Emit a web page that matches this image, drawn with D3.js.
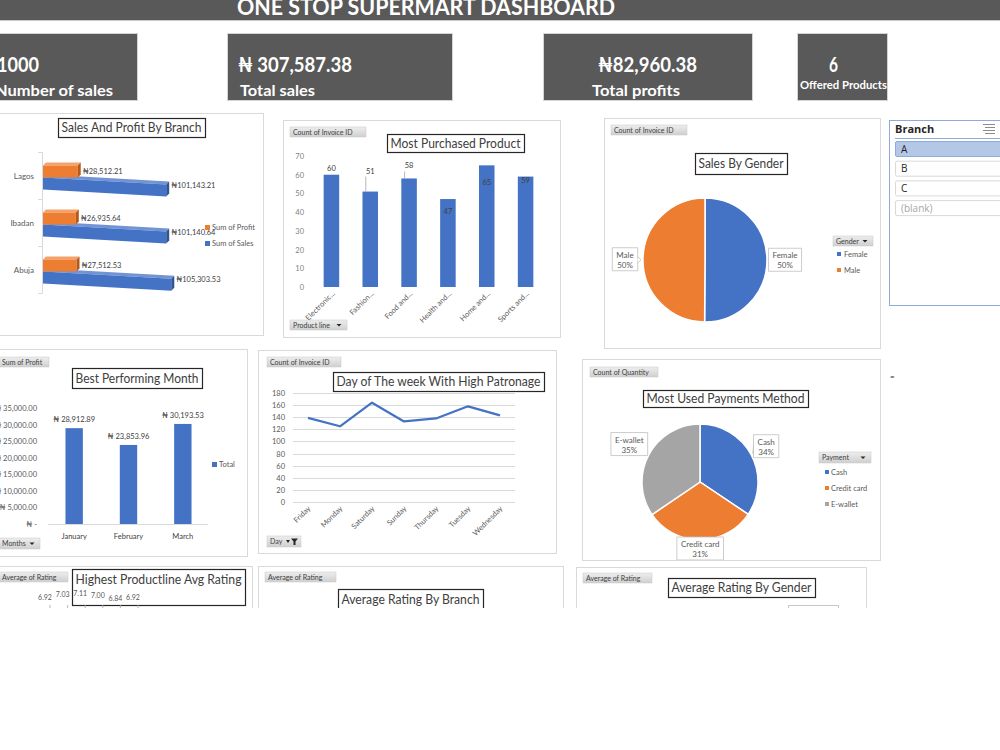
<!DOCTYPE html>
<html><head><meta charset="utf-8">
<script src="https://cdn.jsdelivr.net/npm/d3@7"></script>
<style>body{margin:0;background:#fff;overflow:hidden}svg{display:block;font-family:Lato,"Open Sans",sans-serif}</style>
</head><body><svg id="c" width="1000" height="750"></svg>
<script>
// ---------- DATA ----------
const dashboardTitle = "ONE STOP SUPERMART DASHBOARD";
const kpiLabels = ["Number of sales", "Total sales", "Total profits", "Offered Products"];
const branches = ["Lagos", "Ibadan", "Abuja"];
const branchProfit = [28512.21, 26935.64, 27512.53];
const branchSales = [101143.21, 101140.64, 105303.53];
const productLines = ["Electronic accessories", "Fashion accessories", "Food and beverages", "Health and beauty", "Home and lifestyle", "Sports and travel"];
const productLabels = ["Electronic...", "Fashion...", "Food and...", "Health and...", "Home and...", "Sports and..."];
const productCounts = [60, 51, 58, 47, 65, 59];
const productTicks = [0, 10, 20, 30, 40, 50, 60, 70];
const genders = ["Female", "Male"];
const genderCounts = [501, 499];
const slicerItems = ["A", "B", "C", "(blank)"];
const months = ["January", "February", "March"];
const monthProfit = [28912.89, 23853.96, 30193.53];
const monthTicks = [0, 5000, 10000, 15000, 20000, 25000, 30000, 35000];
const days = ["Friday", "Monday", "Saturday", "Sunday", "Thursday", "Tuesday", "Wednesday"];
const dayCounts = [139, 125, 164, 133, 138, 158, 143];
const dayTicks = [0, 20, 40, 60, 80, 100, 120, 140, 160, 180];
const payments = ["Cash", "Credit card", "E-wallet"];
const paymentCounts = [344, 311, 345];
const productRatings = [6.92, 7.03, 7.11, 7.00, 6.84, 6.92];

// ---------- HELPERS ----------
const svg = d3.select("#c");
const BLUE = "#4472c4", ORANGE = "#ed7d31", GRAY = "#a5a5a5";
const fmt2 = d3.format(",.2f");
const defs = svg.append("defs");
const gr = defs.append("linearGradient").attr("id", "btn").attr("x1", 0).attr("y1", 0).attr("x2", 0).attr("y2", 1);
gr.append("stop").attr("offset", "0%").attr("stop-color", "#eeeeee");
gr.append("stop").attr("offset", "100%").attr("stop-color", "#cfcfcf");
defs.append("clipPath").attr("id", "pageclip").append("rect").attr("x", 0).attr("y", 0).attr("width", 1000).attr("height", 608);

const root = svg.append("g").attr("clip-path", "url(#pageclip)");

function frame(g, x, y, w, h) {
  g.append("rect").attr("x", x + 0.5).attr("y", y + 0.5).attr("width", w).attr("height", h)
    .attr("fill", "#fff").attr("stroke", "#d9d9d9").attr("stroke-width", 1);
}
function titleBox(g, x, y, w, h, label, fs, baseY) {
  g.append("rect").attr("x", x + 0.5).attr("y", y + 0.5).attr("width", w).attr("height", h)
    .attr("fill", "#fff").attr("stroke", "#262626").attr("stroke-width", 1.2);
  g.append("text").attr("x", x + w / 2).attr("y", baseY != null ? baseY : y + h / 2 + fs * 0.36)
    .attr("text-anchor", "middle").attr("font-size", fs).attr("fill", "#404040")
    .attr("textLength", w - 7).attr("lengthAdjust", "spacingAndGlyphs").text(label);
}
function button(g, x, y, w, h, label, arrow) {
  g.append("rect").attr("x", x).attr("y", y).attr("width", w).attr("height", h)
    .attr("fill", "url(#btn)").attr("stroke", "#c8c8c8").attr("stroke-width", 0.5);
  g.append("text").attr("x", x + 3).attr("y", y + h / 2 + 2.5).attr("font-size", 7).attr("fill", "#404040").text(label);
  if (arrow) {
    const ax = x + w - 8, ay = y + h / 2 - 1;
    g.append("path").attr("d", `M${ax - 2.5},${ay}L${ax + 2.5},${ay}L${ax},${ay + 2.5}Z`).attr("fill", "#262626");
  }
}
function callout(g, cx, cy, lines, px, py) {
  const t = g.append("text").attr("font-size", 8).attr("fill", "#595959").attr("text-anchor", "middle");
  lines.forEach((l, i) => t.append("tspan").attr("x", cx).attr("y", cy - 2 + i * 10).text(l));
  const bb = t.node().getBBox();
  const w = bb.width + 8, h = 23;
  const x0 = cx - w / 2, y0 = cy - 12;
  g.insert("path", () => t.node())
    .attr("d", `M${x0},${y0}H${x0 + w}V${y0 + h}H${x0}Z`)
    .attr("fill", "#fff").attr("stroke", "#bfbfbf").attr("stroke-width", 0.8);
  const ex = px < x0 ? x0 : (px > x0 + w ? x0 + w : null);
  if (ex != null) {
    g.insert("path", () => t.node()).attr("d", `M${ex},${cy - 3}L${px},${py}L${ex},${cy + 3}`)
      .attr("fill", "#fff").attr("stroke", "#bfbfbf").attr("stroke-width", 0.8);
  }
}

// ---------- HEADER ----------
root.append("rect").attr("x", 0).attr("y", 0).attr("width", 1000).attr("height", 20).attr("fill", "#595959");
root.append("line").attr("x1", 0).attr("x2", 1000).attr("y1", 20.5).attr("y2", 20.5).attr("stroke", "#c9c9c9");
root.append("text").attr("x", 237).attr("y", 15).attr("font-size", 22).attr("font-weight", 700).attr("fill", "#fff")
  .attr("textLength", 378).attr("lengthAdjust", "spacingAndGlyphs").text(dashboardTitle);

// ---------- KPI BOXES ----------
const kpiValues = [
  String(d3.sum(dayCounts)),
  "₦ " + fmt2(d3.sum(branchSales)),
  "₦" + fmt2(d3.sum(branchProfit)),
  String(productLines.length)
];
const kpiBoxes = [
  {x: -5, w: 142, vx: -3, vw: 42, lx: -5, lw: 118, vs: 20, ls: 16, ly: 96},
  {x: 227, w: 225, vx: 238, vw: 114, lx: 240, lw: 75, vs: 20, ls: 16, ly: 96},
  {x: 543, w: 209, vx: 598, vw: 99, lx: 592, lw: 88, vs: 20, ls: 16, ly: 96},
  {x: 797, w: 90, vx: 829, vw: 9, lx: 800, lw: 87, vs: 20, ls: 11, ly: 89}
];
kpiBoxes.forEach((b, i) => {
  root.append("rect").attr("x", b.x + 0.5).attr("y", 33.5).attr("width", b.w).attr("height", 67)
    .attr("fill", "#595959").attr("stroke", "#d4d4d4").attr("stroke-width", 1);
  root.append("text").attr("x", b.vx).attr("y", 72).attr("font-size", b.vs).attr("font-weight", 700).attr("fill", "#fff")
    .attr("textLength", b.vw).attr("lengthAdjust", "spacingAndGlyphs").text(kpiValues[i]);
  root.append("text").attr("x", b.lx).attr("y", b.ly).attr("font-size", b.ls).attr("font-weight", 700).attr("fill", "#fff")
    .attr("textLength", b.lw).attr("lengthAdjust", "spacingAndGlyphs").text(kpiLabels[i]);
});

// ---------- SALES AND PROFIT BY BRANCH (3D bars) ----------
{
  const g = root.append("g");
  frame(g, -1, 113, 264, 222);
  titleBox(g, 58, 118, 147, 19, "Sales And Profit By Branch", 12.5);
  const bx = d3.scaleLinear().domain([0, 110000]).range([43, 177]);
  const by = d3.scaleBand().domain(branches).range([152, 293]);
  g.append("line").attr("x1", 42.5).attr("x2", 42.5).attr("y1", 152).attr("y2", 293).attr("stroke", "#d9d9d9");
  by.domain().forEach(b => {
    g.append("line").attr("x1", 38).attr("x2", 42.5).attr("y1", by(b) + 0.5).attr("y2", by(b) + 0.5).attr("stroke", "#d9d9d9");
  });
  g.append("line").attr("x1", 38).attr("x2", 42.5).attr("y1", 293.5).attr("y2", 293.5).attr("stroke", "#d9d9d9");
  const poly = pts => "M" + pts.map(p => p.join(",")).join("L") + "Z";
  branches.forEach((b, i) => {
    const c = by(b) + by.bandwidth() / 2;
    const x0 = bx(0), xs = bx(branchSales[i]), xp = bx(branchProfit[i]);
    const sl = (xs - x0) * 7 / 124;
    g.append("path").attr("d", poly([[x0, c + 2], [x0 + 3, c - 1], [xs + 3, c - 1 + sl], [xs, c + 2 + sl]])).attr("fill", "#7394d4");
    g.append("path").attr("d", poly([[x0, c + 2], [xs, c + 2 + sl], [xs, c + 14 + sl], [x0, c + 14]])).attr("fill", BLUE);
    g.append("path").attr("d", poly([[xs, c + 2 + sl], [xs + 3, c - 1 + sl], [xs + 3, c + 11 + sl], [xs, c + 14 + sl]])).attr("fill", "#2f5597");
    g.append("path").attr("d", poly([[x0, c - 10], [x0 + 3, c - 13], [xp + 3, c - 13], [xp, c - 10]])).attr("fill", "#f4a26a");
    g.append("path").attr("d", poly([[x0, c - 10], [xp, c - 10], [xp, c + 2], [x0, c + 2]])).attr("fill", ORANGE);
    g.append("path").attr("d", poly([[xp, c - 10], [xp + 3, c - 13], [xp + 3, c - 1], [xp, c + 2]])).attr("fill", "#b55a1e");
    g.append("text").attr("x", 34).attr("y", c + 3).attr("text-anchor", "end").attr("font-size", 8).attr("fill", "#595959").text(b);
    g.append("text").attr("x", xp + 5).attr("y", c - 2).attr("font-size", 7.5).attr("fill", "#404040").text("₦" + fmt2(branchProfit[i]));
    g.append("text").attr("x", xs + 5).attr("y", c + 12).attr("font-size", 7.5).attr("fill", "#404040").text("₦" + fmt2(branchSales[i]));
  });
  const leg = [["Sum of Profit", ORANGE], ["Sum of Sales", BLUE]];
  leg.forEach((l, i) => {
    g.append("rect").attr("x", 205).attr("y", 225 + i * 16).attr("width", 5).attr("height", 5).attr("fill", l[1]);
    g.append("text").attr("x", 212).attr("y", 230 + i * 16).attr("font-size", 7.5).attr("fill", "#595959").text(l[0]);
  });
}

// ---------- MOST PURCHASED PRODUCT ----------
{
  const g = root.append("g");
  frame(g, 283, 120, 277, 217);
  button(g, 290, 127, 76, 10, "Count of Invoice ID", false);
  titleBox(g, 387, 134, 137, 18, "Most Purchased Product", 12.5);
  const y = d3.scaleLinear().domain([0, 70]).range([287, 156]);
  const x = d3.scaleBand().domain(productLines).range([312, 545]).paddingInner(0.6).paddingOuter(0.3);
  productTicks.forEach(t => {
    g.append("text").attr("x", 304).attr("y", y(t) + 3).attr("text-anchor", "end").attr("font-size", 7.5).attr("fill", "#7f7f7f").text(t);
  });
  g.selectAll("rect.bar").data(productCounts).enter().append("rect").attr("class", "bar")
    .attr("x", (d, i) => x(productLines[i])).attr("width", x.bandwidth())
    .attr("y", d => y(d)).attr("height", d => y(0) - y(d)).attr("fill", BLUE);
  const labelPlace = [[0, -4, false], [0, -18, true], [0, -10, true], [0, 15, false], [0, 20, false], [0, 6, false]];
  productCounts.forEach((d, i) => {
    const cx = x(productLines[i]) + x.bandwidth() / 2;
    const [dx, dy, leader] = labelPlace[i];
    if (leader) g.append("line").attr("x1", cx - 4.5).attr("x2", cx - 4.5).attr("y1", y(d) + dy + 3).attr("y2", y(d)).attr("stroke", "#a6a6a6").attr("stroke-width", 0.8);
    g.append("text").attr("x", cx + dx).attr("y", y(d) + dy).attr("text-anchor", "middle").attr("font-size", 7.5).attr("fill", "#404040").text(d);
  });
  productLabels.forEach((l, i) => {
    const cx = x(productLines[i]) + x.bandwidth() / 2;
    g.append("text").attr("transform", `translate(${cx + 4},${294}) rotate(-45)`).attr("text-anchor", "end")
      .attr("font-size", 7.5).attr("fill", "#595959").text(l);
  });
  button(g, 290, 320, 57, 10, "Product line", true);
}

// ---------- SALES BY GENDER ----------
{
  const g = root.append("g");
  frame(g, 604, 118, 276, 230);
  button(g, 611, 125, 76, 10, "Count of Invoice ID", false);
  titleBox(g, 695, 153, 92, 21, "Sales By Gender", 12.5);
  const cx = 705, cy = 260, r = 62;
  const pie = d3.pie().sort(null).value(d => d)(genderCounts);
  const arc = d3.arc().innerRadius(0).outerRadius(r);
  const colors = [BLUE, ORANGE];
  g.selectAll("path.sl").data(pie).enter().append("path").attr("class", "sl")
    .attr("transform", `translate(${cx},${cy})`).attr("d", arc)
    .attr("fill", (d, i) => colors[i]).attr("stroke", "#fff").attr("stroke-width", 1.5);
  const lab = d3.arc().innerRadius(80).outerRadius(80);
  const edge = d3.arc().innerRadius(r + 2).outerRadius(r + 2);
  const total = d3.sum(genderCounts);
  pie.forEach((p, i) => {
    const [lx, ly] = lab.centroid(p);
    const [ex, ey] = edge.centroid(p);
    callout(g, cx + lx, cy + ly, [genders[i], Math.round(genderCounts[i] / total * 100) + "%"], cx + ex, cy + ey);
  });
  button(g, 833, 236, 40, 10, "Gender", true);
  genders.forEach((gn, i) => {
    g.append("rect").attr("x", 837).attr("y", 252 + i * 16).attr("width", 4).attr("height", 4).attr("fill", colors[i]);
    g.append("text").attr("x", 844).attr("y", 257 + i * 16).attr("font-size", 7.5).attr("fill", "#595959").text(gn);
  });
}

// ---------- BRANCH SLICER ----------
{
  const g = root.append("g");
  g.append("rect").attr("x", 889.5).attr("y", 120.5).attr("width", 130).attr("height", 185)
    .attr("fill", "#fff").attr("stroke", "#8eaadb").attr("stroke-width", 1);
  g.append("text").attr("x", 895).attr("y", 133).attr("font-size", 11).attr("font-weight", 700).attr("fill", "#262626")
    .attr("font-family", "'Open Sans',sans-serif").text("Branch");
  [0, 3, 6, 9].forEach((o, i) => {
    g.append("line").attr("x1", 983 + (i % 2) * 2).attr("x2", 995).attr("y1", 124.5 + o).attr("y2", 124.5 + o)
      .attr("stroke", "#8c8c8c").attr("stroke-width", 1);
  });
  g.append("line").attr("x1", 895).attr("x2", 1000).attr("y1", 138.5).attr("y2", 138.5).attr("stroke", "#8eaadb");
  slicerItems.forEach((s, i) => {
    const yy = 141 + i * 19.7;
    g.append("rect").attr("x", 895.5).attr("y", yy + 0.5).attr("width", 120).attr("height", 15)
      .attr("rx", 1.5)
      .attr("fill", i === 0 ? "#b4c7e7" : "#fff").attr("stroke", i === 0 ? "#8faadc" : "#d9d9d9");
    g.append("text").attr("x", 901).attr("y", yy + 11.5).attr("font-size", 10).attr("font-family", "'Open Sans',sans-serif")
      .attr("fill", i === 3 ? "#a6a6a6" : "#262626").text(s);
  });
}

// ---------- BEST PERFORMING MONTH ----------
{
  const g = root.append("g");
  frame(g, -1, 349, 248, 207);
  button(g, -1, 357, 50, 10, "Sum of Profit", false);
  titleBox(g, 72, 368, 130, 20, "Best Performing Month", 12.5);
  const y = d3.scaleLinear().domain([0, 35000]).range([524, 408]);
  const x = d3.scaleBand().domain(months).range([47, 210]).paddingInner(0.68).paddingOuter(0.34);
  monthTicks.forEach(t => {
    g.append("text").attr("x", 37).attr("y", y(t) + 3).attr("text-anchor", "end").attr("font-size", 7.5).attr("fill", "#595959")
      .text(t === 0 ? "₦ -" : "₦ " + fmt2(t));
  });
  g.append("line").attr("x1", 48).attr("x2", 208).attr("y1", 524.5).attr("y2", 524.5).attr("stroke", "#d9d9d9");
  months.forEach((m, i) => {
    const v = monthProfit[i];
    g.append("rect").attr("x", x(m)).attr("width", x.bandwidth()).attr("y", y(v)).attr("height", y(0) - y(v)).attr("fill", BLUE);
    g.append("text").attr("x", x(m) + x.bandwidth() / 2).attr("y", y(v) - 6).attr("text-anchor", "middle")
      .attr("font-size", 7.5).attr("fill", "#404040").text("₦ " + fmt2(v));
    g.append("text").attr("x", x(m) + x.bandwidth() / 2).attr("y", 539).attr("text-anchor", "middle")
      .attr("font-size", 7.5).attr("fill", "#404040").text(m);
  });
  g.append("rect").attr("x", 212).attr("y", 462).attr("width", 5).attr("height", 5).attr("fill", BLUE);
  g.append("text").attr("x", 219).attr("y", 467).attr("font-size", 7.5).attr("fill", "#595959").text("Total");
  button(g, -1, 538, 41, 11, "Months", true);
}

// ---------- DAY OF THE WEEK ----------
{
  const g = root.append("g");
  frame(g, 258, 350, 298, 203);
  button(g, 267, 357, 74, 10, "Count of Invoice ID", false);
  titleBox(g, 333, 372, 211, 19, "Day of The week  With High Patronage", 12.5);
  const y = d3.scaleLinear().domain([0, 180]).range([502, 393]);
  const x = d3.scalePoint().domain(days).range([308, 500]);
  dayTicks.forEach(t => {
    g.append("line").attr("x1", 293).attr("x2", 515).attr("y1", Math.round(y(t)) + 0.5).attr("y2", Math.round(y(t)) + 0.5).attr("stroke", "#d9d9d9");
    g.append("text").attr("x", 285).attr("y", y(t) + 3).attr("text-anchor", "end").attr("font-size", 7.5).attr("fill", "#595959").text(t);
  });
  const line = d3.line().x((d, i) => x(days[i])).y(d => y(d));
  g.append("path").datum(dayCounts).attr("d", line).attr("fill", "none").attr("stroke", BLUE).attr("stroke-width", 2.2).attr("stroke-linejoin", "round");
  days.forEach(d => {
    g.append("text").attr("transform", `translate(${x(d) + 3},${509}) rotate(-45)`).attr("text-anchor", "end")
      .attr("font-size", 7.5).attr("fill", "#595959").text(d);
  });
  button(g, 267, 536, 34, 11, "Day", false);
  g.append("path").attr("d", "M286,540L290,540L288,543Z").attr("fill", "#262626");
  g.append("path").attr("d", "M291,538.5L298,538.5L295.5,541.5L295.5,545L293.5,545L293.5,541.5Z").attr("fill", "#262626");
}

// ---------- PAYMENTS ----------
{
  const g = root.append("g");
  frame(g, 582, 359, 298, 201);
  button(g, 590, 367, 68, 10, "Count of Quantity", false);
  titleBox(g, 643, 390, 165, 17, "Most Used Payments Method", 12.5);
  const cx = 700, cy = 482, r = 58;
  const pie = d3.pie().sort(null).value(d => d)(paymentCounts);
  const arc = d3.arc().innerRadius(0).outerRadius(r);
  const colors = [BLUE, ORANGE, GRAY];
  g.selectAll("path.sl").data(pie).enter().append("path").attr("class", "sl")
    .attr("transform", `translate(${cx},${cy})`).attr("d", arc)
    .attr("fill", (d, i) => colors[i]).attr("stroke", "#fff").attr("stroke-width", 1.5);
  const labelRadius = [75, 67, 80];
  const edge = d3.arc().innerRadius(r + 2).outerRadius(r + 2);
  const total = d3.sum(paymentCounts);
  pie.forEach((p, i) => {
    const lab = d3.arc().innerRadius(labelRadius[i]).outerRadius(labelRadius[i]);
    const [lx, ly] = lab.centroid(p);
    const [ex, ey] = edge.centroid(p);
    callout(g, cx + lx, cy + ly, [payments[i], Math.round(paymentCounts[i] / total * 100) + "%"], cx + ex, cy + ey);
  });
  g.append("line").attr("x1", 582).attr("x2", 880).attr("y1", 560.5).attr("y2", 560.5).attr("stroke", "#d9d9d9");
  button(g, 819, 452, 52, 11, "Payment", true);
  payments.forEach((p, i) => {
    g.append("rect").attr("x", 825).attr("y", 470 + i * 16).attr("width", 4).attr("height", 4).attr("fill", colors[i]);
    g.append("text").attr("x", 831).attr("y", 475 + i * 16).attr("font-size", 7.5).attr("fill", "#595959").text(p);
  });
}
root.append("text").attr("x", 890).attr("y", 379).attr("font-size", 8).attr("fill", "#262626").text("=");

// ---------- BOTTOM ROW (clipped) ----------
{
  const g = root.append("g");
  frame(g, -1, 566, 253, 60);
  button(g, -1, 572, 69, 10, "Average of Rating", false);
  titleBox(g, 72, 569, 173, 36, "Highest Productline Avg Rating", 13, 584);
  const x = d3.scalePoint().domain(productLines).range([45, 133]);
  const y = d3.scaleLinear().domain([6.8, 7.15]).range([602, 595]);
  productRatings.forEach((v, i) => {
    const px = x(productLines[i]);
    g.append("line").attr("x1", px + 5).attr("x2", px + 5).attr("y1", 605).attr("y2", 612).attr("stroke", "#a6a6a6").attr("stroke-width", 0.8);
    g.append("text").attr("x", px).attr("y", y(v)).attr("text-anchor", "middle").attr("font-size", 7).attr("fill", "#595959").text(v.toFixed(2));
  });

  frame(g, 258, 566, 305, 60);
  button(g, 265, 572, 71, 10, "Average of Rating", false);
  titleBox(g, 338, 589, 145, 26, "Average Rating By Branch", 12.5, 604);

  frame(g, 576, 567, 290, 60);
  button(g, 583, 573, 69, 10, "Average of Rating", false);
  titleBox(g, 668, 578, 147, 19, "Average Rating By Gender", 12.5);
  g.append("rect").attr("x", 788.5).attr("y", 605.5).attr("width", 50).attr("height", 10).attr("fill", "#fff").attr("stroke", "#c8c8c8");
}
</script></body></html>
